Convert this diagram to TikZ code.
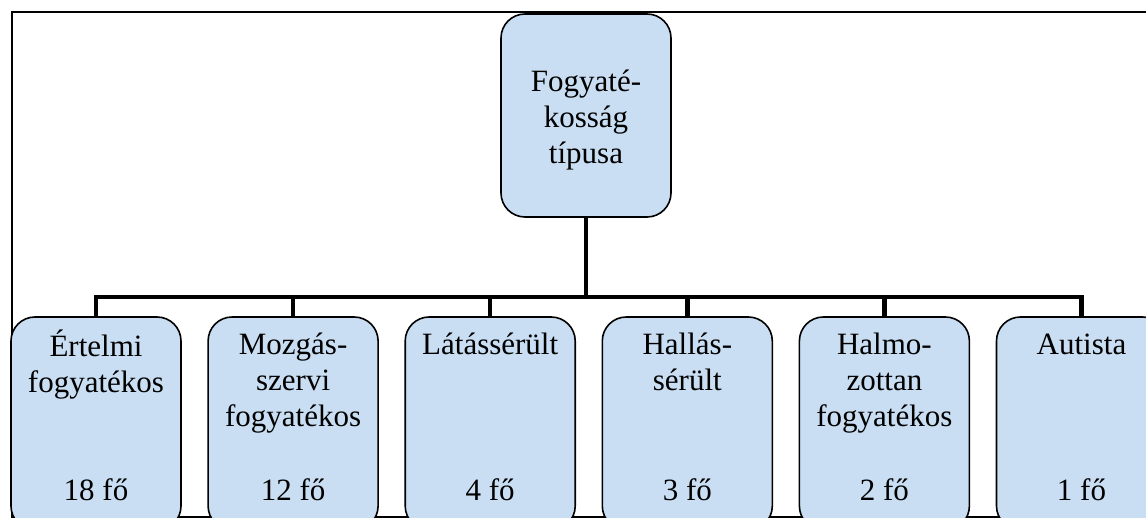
\documentclass[tikz,border=0pt]{standalone}
\usepackage{fontspec}
\setmainfont{Liberation Serif}
\usetikzlibrary{positioning}
\definecolor{boxblue}{RGB}{201,222,242}

\begin{document}
\begin{tikzpicture}[x=1pt,y=-1pt,
    every node/.style={font=\fontsize{31}{36}\selectfont},
    frame/.style={draw,line width=1.5pt},
    typebox/.style={draw,line width=1.6pt,fill=boxblue,rounded corners=24pt,minimum width=170pt,inner sep=0pt},
    root/.style={typebox,minimum height=203pt},
    kind/.style={typebox,minimum height=213pt},
    title/.style={anchor=north,inner sep=0pt,align=center},
    count/.style={anchor=base,inner sep=0pt},
    conn/.style={line width=4.5pt}]
    \useasboundingbox (0,0) rectangle (1146,518);
    \clip (0,0) rectangle (1146,518);
    \draw[frame] (12,12) rectangle (1170,517);
    %root
    \node[root] (t) at (586,115.5) {};
    \node[inner sep=0pt,align=center] (tt) at ([yshift=-5pt]t.center) {Fogyaté-\\kosság\\típusa};
    \coordinate (bus) at (586,297);
    %kinds
    \node[kind] (c1) at (96,423.5) {};
    \node[kind,right=25.5pt of c1] (c2) {};
    \node[kind,right=25.5pt of c2] (c3) {};
    \node[kind,right=25.5pt of c3] (c4) {};
    \node[kind,right=25.5pt of c4] (c5) {};
    \node[kind,right=25.5pt of c5] (c6) {};
    \node[title] at ([yshift=-13pt]c1.north) {\strut Értelmi\\fogyatékos};
    \node[title] at ([yshift=-13pt]c2.north) {\strut Mozgás-\\szervi\\fogyatékos};
    \node[title] at ([yshift=-13pt]c3.north) {\strut Látássérült};
    \node[title] at ([yshift=-13pt]c4.north) {\strut Hallás-\\sérült};
    \node[title] at ([yshift=-13pt]c5.north) {\strut Halmo-\\zottan\\fogyatékos};
    \node[title] at ([yshift=-13pt]c6.north) {\strut Autista};
    \node[count] at ([yshift=30pt]c1.south) {18 fő};
    \node[count] at ([yshift=30pt]c2.south) {12 fő};
    \node[count] at ([yshift=30pt]c3.south) {4 fő};
    \node[count] at ([yshift=30pt]c4.south) {3 fő};
    \node[count] at ([yshift=30pt]c5.south) {2 fő};
    \node[count] at ([yshift=30pt]c6.south) {1 fő};
    \draw[conn] (t.south) -- (bus) -| (c1.north);
    \draw[conn] (t.south) -- (bus) -| (c2.north);
    \draw[conn] (t.south) -- (bus) -| (c3.north);
    \draw[conn] (t.south) -- (bus) -| (c4.north);
    \draw[conn] (t.south) -- (bus) -| (c5.north);
    \draw[conn] (t.south) -- (bus) -| (c6.north);
\end{tikzpicture}
\end{document}
